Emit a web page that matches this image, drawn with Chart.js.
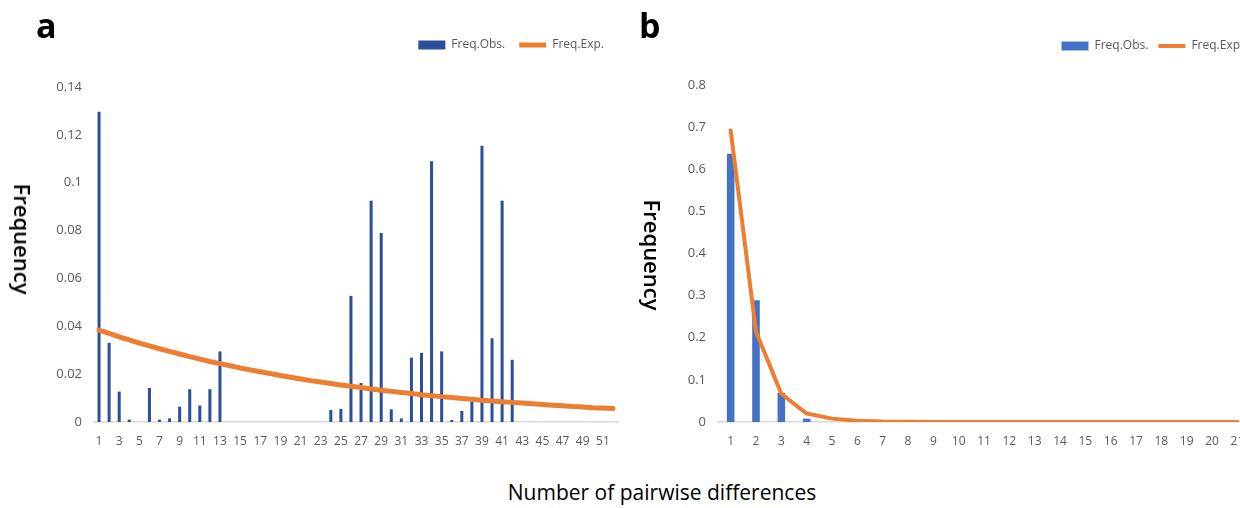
<!DOCTYPE html>
<html>
<head>
<meta charset="utf-8">
<script src="https://cdn.jsdelivr.net/npm/chart.js@4.4.1/dist/chart.umd.min.js"></script>
<style>
  html, body { margin: 0; padding: 0; background: #fff; }
  body { width: 1240px; height: 508px; overflow: hidden; position: relative; font-family: 'Open Sans', sans-serif; }
  canvas { position: absolute; top: 0; }
  #cA { left: 0; }
  #cB { left: 640px; }
  .panel { position: absolute; top: 8px; font-size: 34px; font-weight: 700; color: #000; line-height: 1; }
  .ytitle { position: absolute; font-size: 22px; font-weight: 600; color: #000; white-space: nowrap;
            transform: translate(-50%, -50%) rotate(90deg); }
  .xtitle { position: absolute; left: 662px; top: 492px; font-size: 21px; font-weight: 500; color: #000;
            white-space: nowrap; transform: translate(-50%, -50%); }
</style>
</head>
<body>
<canvas id="cA" width="640" height="470"></canvas>
<canvas id="cB" width="640" height="470"></canvas>
<div class="panel" style="left:36px;">a</div>
<div class="panel" style="left:639px;">b</div>
<div class="ytitle" style="left:23px; top:239px;">Frequency</div>
<div class="ytitle" style="left:653px; top:255px;">Frequency</div>
<div class="xtitle">Number of pairwise differences</div>
<script>
// ---------- Panel a data ----------
const categoriesA = ['1','2','3','4','5','6','7','8','9','10','11','12','13','14','15','16','17','18','19','20',
  '21','22','23','24','25','26','27','28','29','30','31','32','33','34','35','36','37','38','39','40',
  '41','42','43','44','45','46','47','48','49','50','51','52'];
const obsA = [0.1297, 0.0331, 0.0127, 0.0010, 0, 0.0142, 0.0010, 0.0015, 0.0064, 0.0137,
  0.0069, 0.0137, 0.0295, 0, 0, 0, 0, 0, 0, 0,
  0, 0, 0, 0.0050, 0.0055, 0.0527, 0.0163, 0.0925, 0.0790, 0.0053,
  0.0015, 0.0269, 0.0289, 0.1090, 0.0295, 0.0008, 0.0046, 0.0085, 0.1155, 0.0350,
  0.0925, 0.0260, 0, 0, 0, 0, 0, 0, 0, 0, 0, 0];
const expA = [0.0384, 0.0370, 0.0356, 0.0343, 0.0330, 0.0318, 0.0306, 0.0295, 0.0284, 0.0273,
  0.0263, 0.0253, 0.0244, 0.0235, 0.0226, 0.0218, 0.0210, 0.0202, 0.0194, 0.0187,
  0.0180, 0.0173, 0.0167, 0.0161, 0.0155, 0.0149, 0.0144, 0.0138, 0.0133, 0.0128,
  0.0123, 0.0119, 0.0114, 0.0110, 0.0106, 0.0102, 0.0098, 0.0095, 0.0091, 0.0088,
  0.0085, 0.0082, 0.0079, 0.0076, 0.0073, 0.0070, 0.0068, 0.0065, 0.0063, 0.0060,
  0.0058, 0.0056];

// ---------- Panel b data ----------
const categoriesB = ['1','2','3','4','5','6','7','8','9','10','11','12','13','14','15','16','17','18','19','20','21'];
const obsB = [0.637, 0.289, 0.069, 0.008, 0, 0, 0, 0, 0, 0, 0, 0, 0, 0, 0, 0, 0, 0, 0, 0, 0];
const expB = [0.692, 0.214, 0.067, 0.020, 0.008, 0.003, 0.001, 0.0005, 0.0002, 0.0001, 0, 0, 0, 0, 0, 0, 0, 0, 0, 0, 0];

const seriesNames = ['Freq.Obs.', 'Freq.Exp.', 'Freq.Exp'];

const ORANGE = '#ED7D31';
const TICK = '#595959';
const FONT = "'Open Sans', sans-serif";

function legendGap(extra) {
  return {
    id: 'legendGap',
    beforeInit(chart) {
      const origFit = chart.legend.fit;
      chart.legend.fit = function () {
        origFit.bind(chart.legend)();
        this.height += extra;
      };
    }
  };
}

function makeChart(id, cats, obs, exp, obsColor, lineW, expName, yMax, yStep, yDec, yWidth, padTop, padRight, gap, legendPad, oddOnly) {
  return new Chart(document.getElementById(id), {
    data: {
      labels: cats,
      datasets: [
        { type: 'bar', label: seriesNames[0], data: obs, backgroundColor: obsColor, borderWidth: 0,
          barPercentage: 0.3, categoryPercentage: 1.0, order: 2, pointStyle: 'rect' },
        { type: 'line', label: expName, data: exp, borderColor: ORANGE, backgroundColor: ORANGE,
          borderWidth: lineW, pointRadius: 0, tension: 0, order: 1, pointStyle: 'line',
          borderCapStyle: 'round', borderJoinStyle: 'round' }
      ]
    },
    options: {
      responsive: false,
      animation: false,
      layout: { padding: { top: padTop, right: padRight, left: 0, bottom: 0 } },
      plugins: {
        legend: {
          position: 'top', align: 'end',
          labels: { usePointStyle: true, pointStyleWidth: 27, boxHeight: 9, padding: legendPad,
                    color: TICK, font: { family: FONT, size: 12 },
                    sort: (a, b) => a.datasetIndex - b.datasetIndex }
        },
        tooltip: { enabled: false }
      },
      scales: {
        x: {
          grid: { display: false, drawTicks: false },
          border: { display: true, color: '#D9D9D9', width: 1.5 },
          ticks: {
            autoSkip: false, maxRotation: 0, padding: 12, color: TICK, font: { family: FONT, size: 12 },
            callback: function (v, i) { return (oddOnly && i % 2 === 1) ? '' : this.getLabelForValue(v); }
          },
          afterFit(s) { s.height = 48; }
        },
        y: {
          min: 0, max: yMax,
          grid: { display: false, drawTicks: false },
          border: { display: false },
          ticks: { stepSize: yStep, padding: 12, color: TICK, font: { family: FONT, size: 13 },
                   callback: v => String(+v.toFixed(yDec)) },
          afterFit(s) { s.width = yWidth; }
        }
      }
    },
    plugins: [legendGap(gap)]
  });
}

makeChart('cA', categoriesA, obsA, expA, '#2B4F9A', 5, seriesNames[1], 0.14, 0.02, 2, 94, 25, 22, 26, 14, true);
makeChart('cB', categoriesB, obsB, expB, '#4472C4', 4, seriesNames[2], 0.8, 0.1, 1, 78, 30, 30, 23, 10, false);
</script>
</body>
</html>
